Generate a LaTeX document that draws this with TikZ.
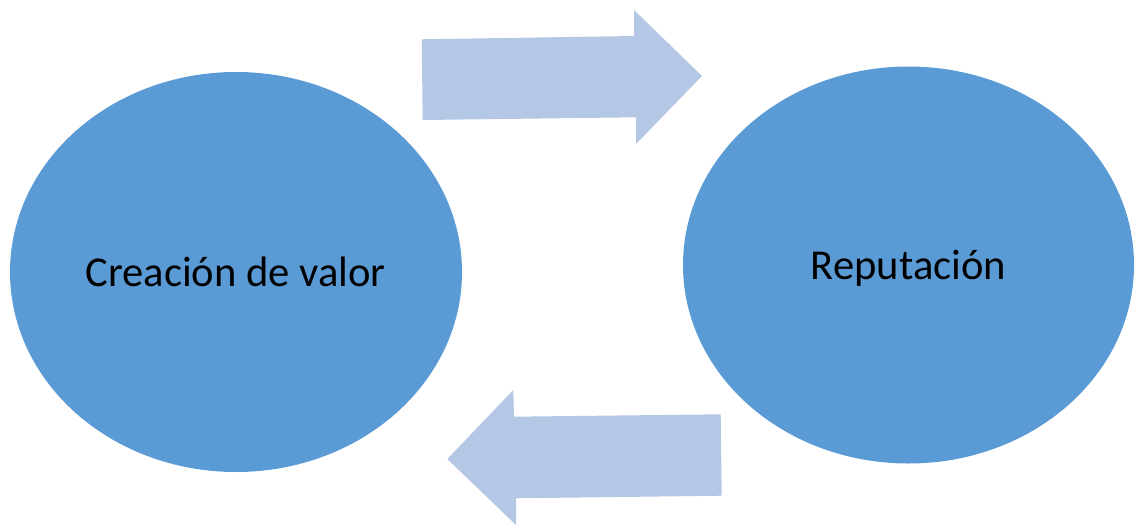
\documentclass[tikz,border=0pt]{standalone}
\usepackage{fontspec}
\setmainfont{Carlito}
\usetikzlibrary{shapes.geometric}
\definecolor{ellblue}{HTML}{5B9BD5}
\definecolor{arrblue}{HTML}{B4C8E6}
\tikzset{
  bubble/.style={ellipse, fill=ellblue, draw=none, inner sep=0pt},
  label/.style={font=\fontsize{42.6}{50}\selectfont, text=black, anchor=base, inner sep=0pt},
  blockarrow/.style={fill=arrblue, draw=none}
}
\begin{document}
\begin{tikzpicture}[x=1pt,y=-1pt]
\useasboundingbox (0,0) rectangle (1137,525);
\node[bubble, minimum width=452pt, minimum height=400pt] (cv) at (236,272) {};
\node[bubble, minimum width=451pt, minimum height=397pt] (rep) at (908.5,265) {};
\node[label] (cvt) at (235.5,286.5) {Creación de valor};
\node[label] (rept) at (908.5,279) {Reputación};
\fill[blockarrow] (421.7,39.3) -- (634,36) -- (634,10) -- (702,76) -- (636,144) -- (636,117.3) -- (422.7,120) -- cycle;
\fill[blockarrow] (720.7,414.3) -- (514,416.7) -- (513.3,390) -- (447.3,459) -- (516,525) -- (516,498.3) -- (721.7,495.7) -- cycle;
\end{tikzpicture}
\end{document}
